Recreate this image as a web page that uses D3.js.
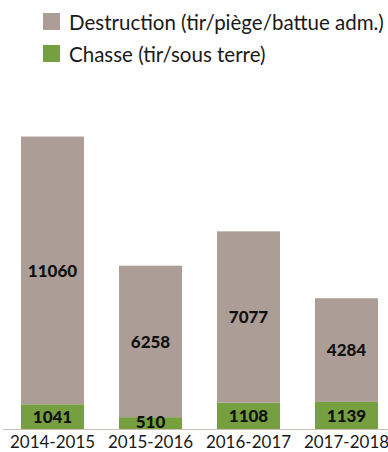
<!DOCTYPE html>
<html>
<head>
<meta charset="utf-8">
<script src="https://cdn.jsdelivr.net/npm/d3@7"></script>
<style>
  html, body { margin: 0; padding: 0; background: #fff; }
  svg { display: block; font-family: "Lato", "Open Sans", sans-serif; }
</style>
</head>
<body>
<svg id="chart" width="388" height="452"></svg>
<script>
// Saisons et prélèvements
const seasons = ["2014-2015", "2015-2016", "2016-2017", "2017-2018"];
const chasse = [1041, 510, 1108, 1139];
const destruction = [11060, 6258, 7077, 4284];
const seriesNames = ["Destruction (tir/piège/battue adm.)", "Chasse (tir/sous terre)"];
const seriesColors = ["#ad9d97", "#76a03f"];

const svg = d3.select("#chart");
const W = 388, H = 452;
const baseY = 429.5;

const x = d3.scaleBand()
  .domain(seasons)
  .range([21, 378])
  .paddingInner(0.357)
  .paddingOuter(0);

const y = d3.scaleLinear()
  .domain([0, 12000])
  .range([baseY, 139]);

const rows = seasons.map((s, i) => ({ season: s, chasse: chasse[i], destruction: destruction[i] }));
const stack = d3.stack().keys(["chasse", "destruction"])(rows);
const colorOf = { chasse: seriesColors[1], destruction: seriesColors[0] };

// Segments empilés
const layers = svg.append("g").selectAll("g")
  .data(stack)
  .join("g")
  .attr("fill", d => colorOf[d.key]);

layers.selectAll("rect")
  .data(d => d)
  .join("rect")
  .attr("x", d => x(d.data.season))
  .attr("width", x.bandwidth())
  .attr("y", d => y(d[1]))
  .attr("height", d => y(d[0]) - y(d[1]));

// Valeurs au centre de chaque segment (remontées si le segment est trop fin)
const labels = svg.append("g")
  .attr("font-weight", 900)
  .attr("font-size", 17)
  .attr("fill", "#111")
  .attr("text-anchor", "middle");

stack.forEach(layer => {
  labels.selectAll(null)
    .data(layer)
    .join("text")
    .attr("x", d => x(d.data.season) + x.bandwidth() / 2)
    .attr("y", d => Math.min((y(d[0]) + y(d[1])) / 2, y(d[0]) - 8))
    .attr("dy", "0.36em")
    .text(d => d[1] - d[0]);
});

// Ligne de base
svg.append("line")
  .attr("x1", 3).attr("x2", W)
  .attr("y1", baseY).attr("y2", baseY)
  .attr("stroke", "#cbbfba")
  .attr("stroke-width", 1);

// Axe des saisons
const axis = svg.append("g")
  .attr("transform", `translate(0,${baseY})`)
  .call(d3.axisBottom(x).tickSize(0).tickPadding(6));
axis.select(".domain").remove();
axis.selectAll("text")
  .attr("font-size", 17)
  .attr("font-family", "Lato, 'Open Sans', sans-serif")
  .attr("fill", "#1a1a1a");

// Légende
const legend = svg.append("g");
const items = legend.selectAll("g")
  .data(seriesNames)
  .join("g")
  .attr("transform", (d, i) => `translate(43,${13 + i * 32})`);
items.append("rect")
  .attr("width", 17).attr("height", 17)
  .attr("fill", (d, i) => seriesColors[i]);
items.append("text")
  .attr("x", 26)
  .attr("y", 17)
  .attr("font-size", 20.5)
  .attr("fill", "#1a1a1a")
  .text(d => d);
</script>
</body>
</html>
